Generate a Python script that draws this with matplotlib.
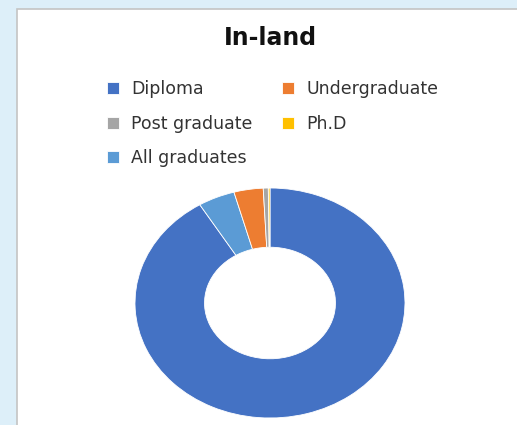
import matplotlib.pyplot as plt
from matplotlib.patches import Rectangle

# share of each education level (percent), listed clockwise from 12 o'clock
labels = ['Diploma', 'All graduates', 'Undergraduate', 'Post graduate', 'Ph.D']
shares = [91.3, 4.4, 3.5, 0.6, 0.2]
colors = ['#4472C4', '#5B9BD5', '#ED7D31', '#A5A5A5', '#FFC000']
legend_order = ['Diploma', 'Post graduate', 'All graduates', 'Undergraduate', 'Ph.D']

W, H = 517, 425
fig = plt.figure(figsize=(W / 100, H / 100), dpi=100)
fig.patch.set_facecolor('#ddeff9')

# white chart panel
panel = Rectangle((17 / W, -0.05), 1.0, (H - 9) / H + 0.05, transform=fig.transFigure,
                  facecolor='white', edgecolor='#c4c4c4', linewidth=1.2, zorder=-5)
fig.patches.append(panel)

fig.text(270 / W, 1 - 38 / H, 'In-land', ha='center', va='center',
         fontsize=17, fontweight='bold', color='#111111')

ax = fig.add_axes([(270 - 135) / W, (H - 418) / H, 270 / W, 230 / H], zorder=2)
wedges, _ = ax.pie(shares, colors=colors, startangle=90, counterclock=False,
                   radius=1.0, wedgeprops=dict(width=0.515, edgecolor='white', linewidth=0.6))
ax.set_aspect('auto')
ax.set_xlim(-1, 1)
ax.set_ylim(-1, 1)
ax.axis('off')

by_name = dict(zip(labels, wedges))
leg = fig.legend([by_name[n] for n in legend_order], legend_order, ncol=2,
                 loc='upper left', bbox_to_anchor=(107 / W, 1 - 80 / H),
                 frameon=False, fontsize=12.5, handlelength=0.68, handleheight=0.68,
                 handletextpad=0.72, columnspacing=1.7, labelspacing=0.96,
                 borderpad=0, borderaxespad=0)
for t in leg.get_texts():
    t.set_color('#333333')

fig.savefig('out.png', dpi=100, facecolor=fig.get_facecolor())
